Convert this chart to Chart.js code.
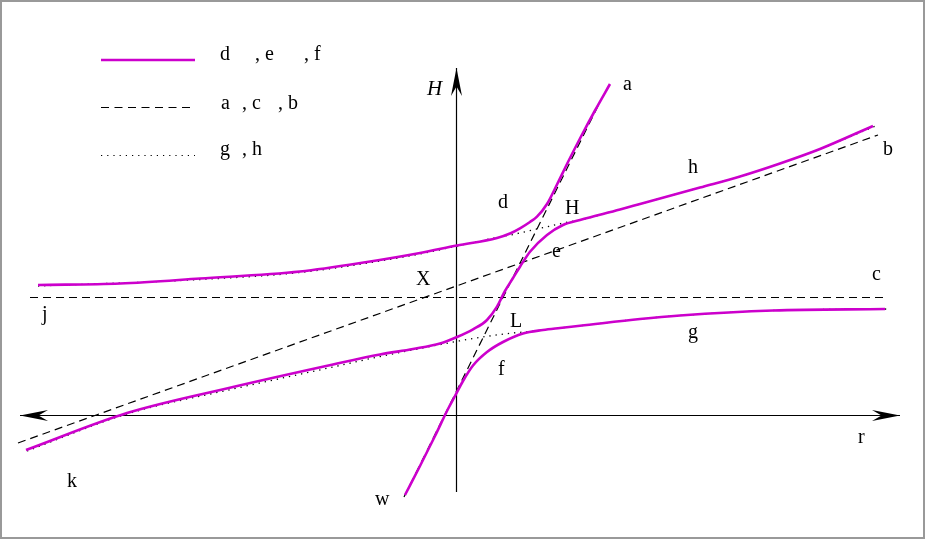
<!DOCTYPE html>
<html><head><meta charset="utf-8">
<script src="https://cdn.jsdelivr.net/npm/chart.js@4/dist/chart.umd.min.js"></script>
<style>html,body{margin:0;padding:0;background:#fff}#wrap{width:926px;height:541px;position:relative}canvas{display:block}</style>
</head><body><div id="wrap"><canvas id="c" width="926" height="541"></canvas></div>
<script>
// ---- data (x: energy-axis units, y: H units) ----
const upperCurve = [[-418,130],[-336,131.5],[-256,136.5],[-156,143.5],[-89,153],[-36,162],[1,169.5],[41,177],[54,181.5],[64,186.7],[74,193],[81,198.3],[91,211],[101,230.5],[112,253],[124,276.5],[139,304.5],[154,331]];
const middleCurve = [[-430,-35],[-329,2],[-223,28],[-123,50.5],[-76,60.5],[-43,66],[-16,71.5],[1,78],[17,85.7],[31,95],[41,108.3],[49,124],[57,137],[64,148.3],[74,163.3],[91,180],[107,190],[124,195],[164,205.5],[184,211],[244,227.5],[284,238.5],[324,251.5],[364,266],[417,289]];
const lowerCurve = [[-51,-80],[-36,-51],[-21,-21],[-8,6],[-1,19],[7,34],[17,49.5],[31,63],[47,73],[67,81.5],[87,85],[104,87],[124,89.2],[184,96],[224,99.5],[317,104.5],[429,106]];
const dottedG = [[-429,-36],[-329,1],[-223,26],[-123,48],[-76,58.5],[-23,69],[0,73.5],[44,80.5],[84,84.7],[104,87],[124,89.2],[184,96],[224,99.5],[317,104.5],[432,106]];
const dottedH = [[-418,129],[-256,135.5],[-156,142.5],[-36,161],[1,169],[41,177.5],[57,180.5],[84,186.7],[114,193.3],[124,195],[164,205.5],[184,211],[244,227.5],[284,238.5],[324,251.5],[364,266],[422,290]];
const dashedA = [[-52,-82],[142,309]];
const dashedB = [[-438,-28],[422,280]];
const dashedC = [[-426,117.5],[432,117.5]];
const axisX = [[-436,-0.5],[444,-0.5]];
const axisY = [[0.5,-77],[0.5,347]];
const legendLabels = [["d", ", e", ", f"], ["a", ", c", ", b"], ["g", ", h"]];
const pointLabels = ["a","b","c","d","H","e","h","X","j","L","f","g","k","r","w"];
const pointLabelAt = [[167,325],[427,260],[416,135],[42,207],[109,201],[96,158],[232,242],[-40,130],[-414,95],[54,88],[42,40],[232,77],[-389,-72],[402,-28],[-81,-90]];
const axisTitle = "H";

const MAG = '#cc00cc';
const toPts = a => a.map(p => ({x:p[0], y:p[1]}));
function curve(d, extra){ return Object.assign({data:toPts(d), showLine:true, pointRadius:0, fill:false, clip:false}, extra); }

const datasets = [
  curve(upperCurve,{borderColor:MAG,borderWidth:2.6,cubicInterpolationMode:'monotone',order:0}),
  curve(middleCurve,{borderColor:MAG,borderWidth:2.6,cubicInterpolationMode:'monotone',order:0}),
  curve(lowerCurve,{borderColor:MAG,borderWidth:2.6,cubicInterpolationMode:'monotone',order:0}),
  curve(dashedA,{borderColor:'#000',borderWidth:1.2,borderDash:[8,5],tension:0,order:1}),
  curve(dashedB,{borderColor:'#000',borderWidth:1.2,borderDash:[8,5],tension:0,order:1}),
  curve(dashedC,{borderColor:'#000',borderWidth:1.1,borderDash:[8,5],tension:0,order:1}),
  curve(dottedG,{borderColor:'#000',borderWidth:1.3,borderDash:[1.3,4.9],cubicInterpolationMode:'monotone',order:2}),
  curve(dottedH,{borderColor:'#000',borderWidth:1.3,borderDash:[1.3,4.9],cubicInterpolationMode:'monotone',order:2}),
  curve(axisX,{borderColor:'#000',borderWidth:1.2,tension:0,order:3}),
  curve(axisY,{borderColor:'#000',borderWidth:1.2,tension:0,order:3})
];

const decor = {
  id:'decor',
  afterDatasetsDraw(chart){
    const {ctx, scales:{x, y}} = chart;
    const px = v => x.getPixelForValue(v), py = v => y.getPixelForValue(v);
    ctx.save();
    function arrow(tx, ty, dx, dy){
      const L = 28, w = 5.5, n = 0.66;
      const nx = -dy, ny = dx;
      ctx.beginPath();
      ctx.moveTo(tx, ty);
      ctx.lineTo(tx - L*dx + w*nx, ty - L*dy + w*ny);
      ctx.lineTo(tx - n*L*dx, ty - n*L*dy);
      ctx.lineTo(tx - L*dx - w*nx, ty - L*dy - w*ny);
      ctx.closePath();
      ctx.fillStyle = '#000';
      ctx.fill();
    }
    arrow(px(axisX[1][0]), py(axisX[1][1]), 1, 0);
    arrow(px(axisX[0][0]), py(axisX[0][1]), -1, 0);
    arrow(px(axisY[1][0]), py(axisY[1][1]) , 0, -1);

    ctx.fillStyle = '#000';
    ctx.textBaseline = 'alphabetic';
    ctx.textAlign = 'left';
    ctx.font = '20px "Liberation Serif", "DejaVu Serif", serif';
    pointLabels.forEach((t, i) => ctx.fillText(t, px(pointLabelAt[i][0]), py(pointLabelAt[i][1])));
    ctx.font = 'italic 21px "Liberation Serif", "DejaVu Serif", serif';
    ctx.fillText(axisTitle, px(-29), py(320));

    // legend
    const rows = [60, 107.5, 155.5];
    const base = [60, 109, 155];
    const styles = [
      {c:MAG, w:2.6, d:[]},
      {c:'#000', w:1.1, d:[8,5.5]},
      {c:'#000', w:1.2, d:[1.2,5]}
    ];
    const xs = [[220,255,304],[221,242,278],[220,242]];
    rows.forEach((ry, i) => {
      ctx.beginPath();
      ctx.setLineDash(styles[i].d);
      ctx.strokeStyle = styles[i].c;
      ctx.lineWidth = styles[i].w;
      ctx.moveTo(101, ry); ctx.lineTo(195, ry);
      ctx.stroke();
      ctx.setLineDash([]);
      ctx.font = '20px "Liberation Serif", "DejaVu Serif", serif';
      legendLabels[i].forEach((t, j) => ctx.fillText(t, xs[i][j], base[i]));
    });

    // frame
    ctx.strokeStyle = '#999';
    ctx.lineWidth = 2;
    ctx.strokeRect(1, 1, 923, 537);
    ctx.restore();
  }
};

new Chart(document.getElementById('c'), {
  type:'scatter',
  data:{datasets},
  options:{
    responsive:false,
    animation:false,
    devicePixelRatio:1,
    layout:{padding:0},
    plugins:{legend:{display:false}, tooltip:{enabled:false}},
    scales:{
      x:{type:'linear', min:-456, max:470, display:false},
      y:{type:'linear', min:-126, max:415, display:false}
    }
  },
  plugins:[decor]
});
</script>
</body></html>
